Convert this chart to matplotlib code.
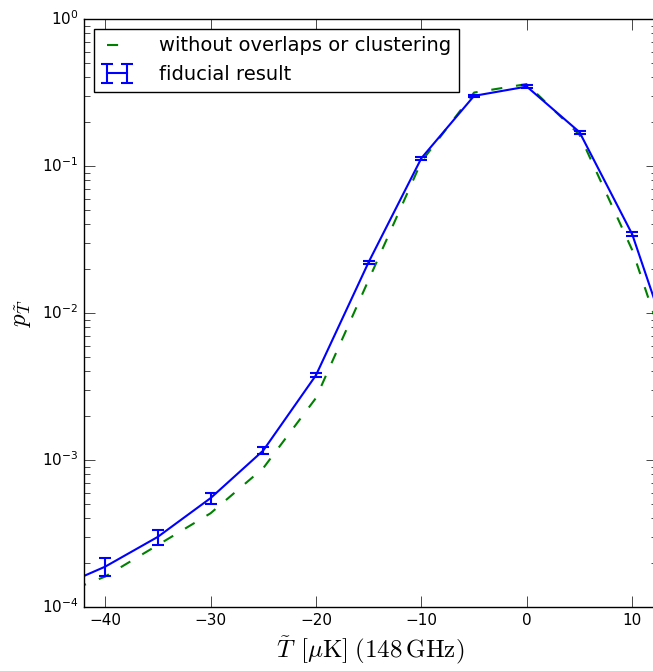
import numpy as np
import matplotlib
matplotlib.use('Agg')
import matplotlib.pyplot as plt

plt.style.use('classic')
plt.rcParams['mathtext.fontset'] = 'cm'

# temperature bins (muK, 148 GHz)
T = [-45, -40, -35, -30, -25, -20, -15, -10, -5, 0, 5, 10, 15]

# fiducial result with error bars
p_fid = [1.31e-4, 1.88e-4, 3.0e-4, 5.5e-4, 1.16e-3, 3.77e-3, 2.22e-2,
         0.113, 0.30, 0.347, 0.170, 0.0343, 3.0e-3]
p_err = [0.2e-4, 0.26e-4, 0.35e-4, 0.47e-4, 0.07e-3, 0.12e-3, 0.5e-3,
         0.003, 0.006, 0.006, 0.004, 0.001, 0.2e-3]

# without overlaps or clustering
p_noov = [1.16e-4, 1.61e-4, 2.64e-4, 4.34e-4, 8.8e-4, 2.64e-3, 1.68e-2,
          0.107, 0.316, 0.361, 0.163, 0.0268, 2.3e-3]

fig = plt.figure(figsize=(6.53, 6.71), dpi=100, facecolor='white')
ax = fig.add_axes([84 / 653, 64 / 671, 573 / 653, 588 / 671])

ax.plot(T, p_noov, 'g--', lw=1.5, dashes=(8, 10),
        label='without overlaps or clustering')
ax.errorbar(T, p_fid, yerr=p_err, fmt='b-', lw=1.5, capsize=4,
            capthick=1.5, elinewidth=1.5, label='fiducial result')

ax.set_yscale('log')
ax.set_xlim(-42, 12.35)
ax.set_ylim(1e-4, 1)
ax.set_xticks([-40, -30, -20, -10, 0, 10])
ax.tick_params(labelsize=11)
ax.tick_params(which='major', length=8)
ax.tick_params(which='minor', length=4)

ax.set_xlabel(r'${\tilde{T}}\;\,[\mu\mathrm{K}]\;(148\,\mathrm{GHz})$', fontsize=18)
ax.set_ylabel(r'$p_{\tilde{T}}$', fontsize=18)

ax.legend(loc='upper left', fontsize=14, numpoints=2, handlelength=1.6,
          handletextpad=1.35)

fig.savefig('out.png', dpi=100, facecolor='white')
